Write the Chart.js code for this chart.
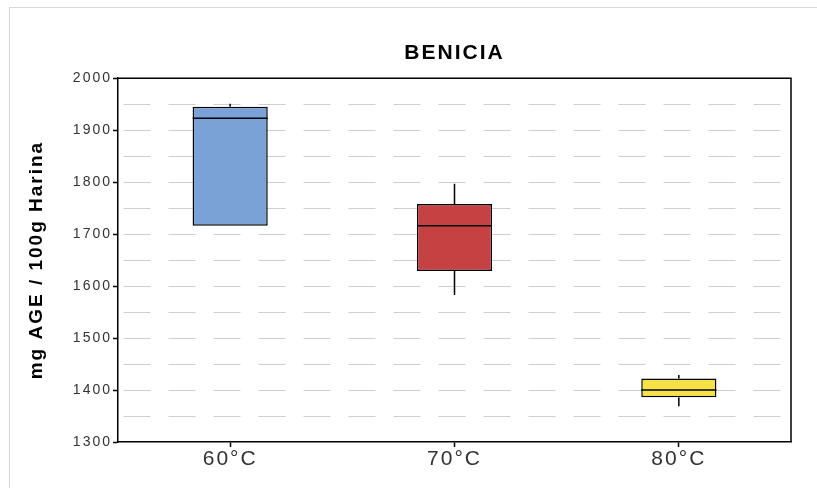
<!DOCTYPE html>
<html>
<head>
<meta charset="utf-8">
<script src="https://cdn.jsdelivr.net/npm/chart.js@4"></script>
<style>
  body { margin: 0; background: #fff; overflow: hidden; }
  #frame {
    position: absolute; left: 9px; top: 7px;
    width: 808px; height: 481px;
    border-left: 1px solid #d8d8d8; border-top: 1px solid #d8d8d8;
  }
</style>
</head>
<body>
<div id="frame"><canvas id="chart"></canvas></div>
<script>
// Box plot values (mg AGE / 100g Harina)
const categories = ['60°C', '70°C', '80°C'];
const mins    = [1716, 1583, 1369];
const q1      = [1716, 1629, 1386];
const medians = [1923, 1716, 1400];
const q3      = [1945, 1758, 1422];
const maxs    = [1951, 1797, 1429];
const boxColors = ['#7ba2d6', '#c64242', '#f6e245'];

const fontFamily = "'Liberation Sans', Arial, sans-serif";

// The reference text is tracked out a little, so give the canvas some letter spacing
const spacing = {
    id: 'spacing',
    beforeUpdate(chart) { chart.ctx.letterSpacing = '2px'; },
    beforeDraw(chart) { chart.ctx.letterSpacing = '2px'; }
};

// Whiskers under the boxes, median lines and the top/right frame on top
const boxLines = {
    id: 'boxLines',
    beforeDatasetsDraw(chart) {
        const ctx = chart.ctx, x = chart.scales.x, y = chart.scales.y;
        ctx.save();
        ctx.strokeStyle = '#000';
        ctx.lineWidth = 1.5;
        categories.forEach((c, i) => {
            const px = x.getPixelForValue(i);
            ctx.beginPath();
            ctx.moveTo(px, y.getPixelForValue(maxs[i]));
            ctx.lineTo(px, y.getPixelForValue(q3[i]));
            ctx.moveTo(px, y.getPixelForValue(q1[i]));
            ctx.lineTo(px, y.getPixelForValue(mins[i]));
            ctx.stroke();
        });
        ctx.restore();
    },
    afterDatasetsDraw(chart) {
        const ctx = chart.ctx, y = chart.scales.y, area = chart.chartArea;
        const meta = chart.getDatasetMeta(0);
        ctx.save();
        ctx.strokeStyle = '#000';
        ctx.lineWidth = 1.5;
        meta.data.forEach((bar, i) => {
            const { x, width } = bar.getProps(['x', 'width'], true);
            const py = y.getPixelForValue(medians[i]);
            ctx.beginPath();
            ctx.moveTo(x - width / 2, py);
            ctx.lineTo(x + width / 2, py);
            ctx.stroke();
        });
        ctx.beginPath();
        ctx.moveTo(area.left, area.top);
        ctx.lineTo(area.right, area.top);
        ctx.lineTo(area.right, area.bottom);
        ctx.stroke();
        ctx.restore();
    }
};

const ctx = document.getElementById('chart').getContext('2d');
new Chart(ctx, {
    type: 'bar',
    data: {
        labels: categories,
        datasets: [{
            data: categories.map((c, i) => [q1[i], q3[i]]),
            backgroundColor: boxColors,
            borderColor: '#000',
            borderWidth: 1.5,
            borderSkipped: false,
            barPercentage: 0.335,
            categoryPercentage: 1
        }]
    },
    options: {
        responsive: true,
        maintainAspectRatio: false,
        animation: false,
        layout: { padding: { left: 0, right: 27, top: 0, bottom: 0 } },
        scales: {
            x: {
                afterFit(scale) { scale.height = 47; },
                ticks: {
                    color: '#333',
                    padding: 0,
                    font: { family: fontFamily, size: 21 }
                },
                grid: {
                    offset: false,
                    drawOnChartArea: false,
                    drawTicks: true,
                    tickLength: 5,
                    tickWidth: 1.5,
                    tickColor: '#000'
                },
                border: { color: '#000', width: 1.5 }
            },
            y: {
                min: 1300,
                max: 2000,
                afterFit(scale) { scale.width = 108; },
                ticks: {
                    stepSize: 50,
                    autoSkip: false,
                    padding: 1,
                    color: '#333',
                    font: { family: fontFamily, size: 14 },
                    callback: function(value) {
                        return value % 100 === 0 ? value : '';
                    }
                },
                grid: {
                    color: function(c) {
                        const v = c.tick ? c.tick.value : 0;
                        return (v === 1300 || v === 2000) ? 'rgba(0,0,0,0)' : '#cfcfcf';
                    },
                    lineWidth: 1,
                    tickLength: 5,
                    tickWidth: 1.5,
                    tickBorderDash: [],
                    tickColor: function(c) {
                        return c.tick && c.tick.value % 100 === 0 ? '#000' : 'rgba(0,0,0,0)';
                    }
                },
                border: { color: '#000', width: 1.5, dash: [27, 18], dashOffset: 40 },
                title: {
                    display: true,
                    text: 'mg AGE / 100g Harina',
                    color: '#000',
                    font: { family: fontFamily, size: 19, weight: 'bold' },
                    padding: { top: 15, bottom: 0 }
                }
            }
        },
        plugins: {
            legend: { display: false },
            tooltip: { enabled: false },
            title: {
                display: true,
                text: 'BENICIA',
                fullSize: false,
                color: '#000',
                font: { family: fontFamily, size: 21, weight: 'bold' },
                padding: { top: 33, bottom: 12 }
            }
        }
    },
    plugins: [spacing, boxLines]
});
</script>
</body>
</html>
